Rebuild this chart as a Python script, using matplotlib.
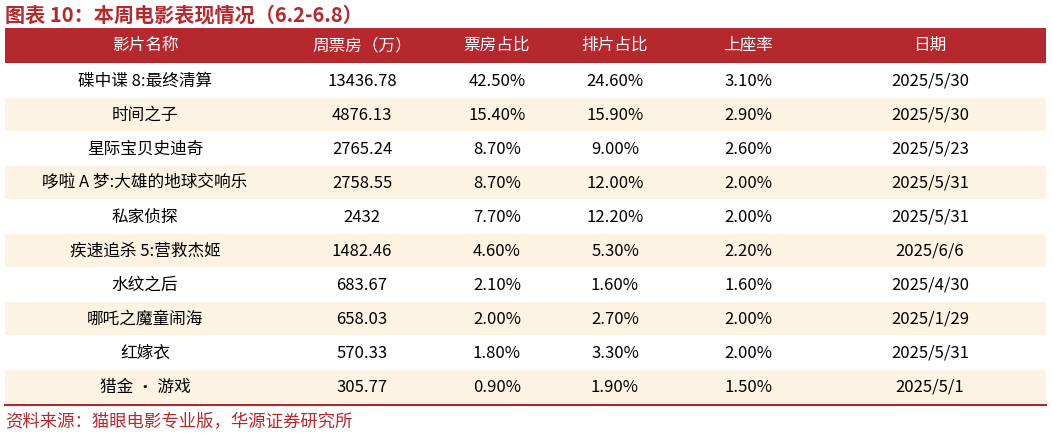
import matplotlib
matplotlib.use("Agg")
import matplotlib.pyplot as plt
from matplotlib.patches import Rectangle

plt.rcParams['font.family'] = ['Noto Sans CJK SC', 'DejaVu Sans']

headers = ["影片名称", "周票房（万）", "票房占比", "排片占比", "上座率", "日期"]
names = ["碟中谍 8:最终清算", "时间之子", "星际宝贝史迪奇", "哆啦 A 梦:大雄的地球交响乐", "私家侦探",
         "疾速追杀 5:营救杰姬", "水纹之后", "哪吒之魔童闹海", "红嫁衣", "猎金 · 游戏"]
box = ["13436.78", "4876.13", "2765.24", "2758.55", "2432", "1482.46", "683.67", "658.03", "570.33", "305.77"]
share = ["42.50%", "15.40%", "8.70%", "8.70%", "7.70%", "4.60%", "2.10%", "2.00%", "1.80%", "0.90%"]
sched = ["24.60%", "15.90%", "9.00%", "12.00%", "12.20%", "5.30%", "1.60%", "2.70%", "3.30%", "1.90%"]
occ = ["3.10%", "2.90%", "2.60%", "2.00%", "2.00%", "2.20%", "1.60%", "2.00%", "2.00%", "1.50%"]
dates = ["2025/5/30", "2025/5/30", "2025/5/23", "2025/5/31", "2025/5/31", "2025/6/6", "2025/4/30",
         "2025/1/29", "2025/5/31", "2025/5/1"]

W, H = 1053, 437
fig = plt.figure(figsize=(W/100, H/100), dpi=100)
ax = fig.add_axes([0, 0, 1, 1])
ax.set_xlim(0, W); ax.set_ylim(H, 0); ax.axis('off')

red = '#B5282E'
beige = '#FDF3E3'
x0, x1 = 5, 1046
centers = [145, 362, 497, 615, 748, 930]
hdr_top, hdr_bot = 28, 63
row_h = 34

ax.text(5, 15, "图表 10：本周电影表现情况（6.2-6.8）", color=red, fontsize=14.5,
        fontweight='bold', va='center', ha='left')
ax.add_patch(Rectangle((x0, hdr_top), x1-x0, hdr_bot-hdr_top, color=red, lw=0))
for c, h in zip(centers, headers):
    ax.text(c, (hdr_top+hdr_bot)/2, h, color='white', fontsize=12, ha='center', va='center')

cols = [names, box, share, sched, occ, dates]
for i in range(len(names)):
    top = hdr_bot + 1 + i*row_h
    if i % 2 == 1:
        ax.add_patch(Rectangle((x0, top), x1-x0, row_h-1, color=beige, lw=0))
    for c, col in zip(centers, cols):
        ax.text(c, top + row_h/2, col[i], color='black', fontsize=12, ha='center', va='center')

bottom = hdr_bot + 1 + len(names)*row_h
ax.plot([x0, x1], [bottom+0.5, bottom+0.5], color=red, lw=1.5)
ax.text(5, 422, "资料来源：猫眼电影专业版，华源证券研究所", color=red, fontsize=12.5, va='center', ha='left')

fig.savefig("out.png", dpi=100)
